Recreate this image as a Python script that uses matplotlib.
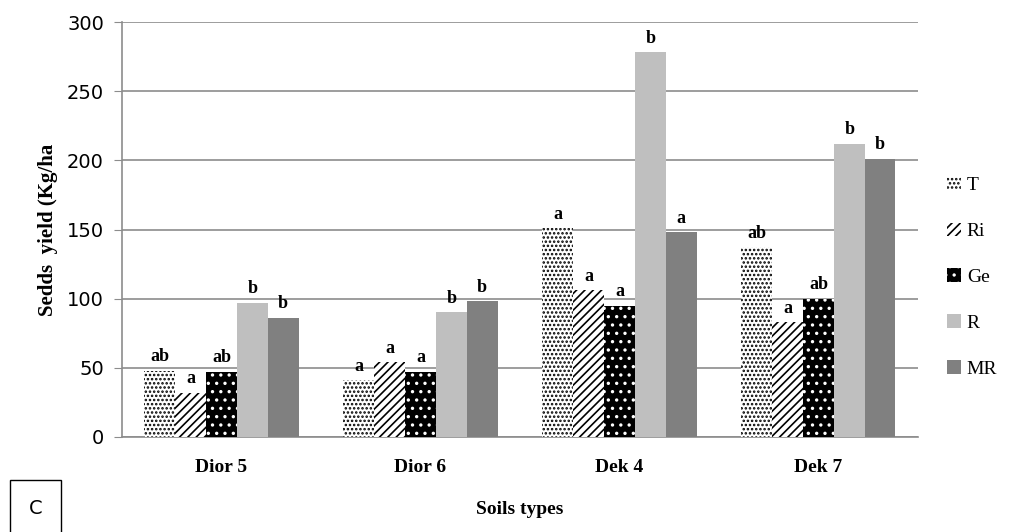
import numpy as np
import matplotlib
matplotlib.use('Agg')
import matplotlib.pyplot as plt

soils = ['Dior 5', 'Dior 6', 'Dek 4', 'Dek 7']
series = ['T', 'Ri', 'Ge', 'R', 'MR']
T = [48, 41, 151, 137]
Ri = [32, 54, 106, 83]
Ge = [47, 47, 95, 100]
R = [97, 90, 278, 212]
MR = [86, 98, 148, 201]
letters_T = ['ab', 'a', 'a', 'ab']
letters_Ri = ['a', 'a', 'a', 'a']
letters_Ge = ['ab', 'a', 'a', 'ab']
letters_R = ['b', 'b', 'b', 'b']
letters_MR = ['b', 'b', 'a', 'b']

values = [T, Ri, Ge, R, MR]
letters = [letters_T, letters_Ri, letters_Ge, letters_R, letters_MR]
faces = ['white', 'white', 'black', '#bfbfbf', '#808080']
edges = ['black', 'black', 'white', '#bfbfbf', '#808080']
hatches = ['....', '////', '..', None, None]

plt.rcParams['hatch.linewidth'] = 1.2
fig = plt.figure(figsize=(10.21, 5.32), dpi=100)
ax = fig.add_axes([0.1195, 0.1786, 0.7795, 0.78])

x = np.arange(len(soils))
w = 0.155
for i, name in enumerate(series):
    pos = x + (i - 2) * w
    ax.bar(pos, values[i], w, color=faces[i], edgecolor=edges[i], hatch=hatches[i],
           linewidth=0, label=name, zorder=3)
    for p, v, t in zip(pos, values[i], letters[i]):
        ax.text(p, v + 4, t, ha='center', va='bottom', family='Liberation Serif',
                fontweight='bold', fontsize=13, zorder=4)

ax.set_xlim(-0.5, 3.5)
ax.set_ylim(0, 300)
ax.set_yticks(range(0, 301, 50))
ax.yaxis.grid(True, color='#8c8c8c', linewidth=1.2, zorder=0)
ax.set_axisbelow(True)
for s in ['top', 'right']:
    ax.spines[s].set_visible(False)
for s in ['left', 'bottom']:
    ax.spines[s].set_color('#8c8c8c')
    ax.spines[s].set_linewidth(1.2)
ax.tick_params(axis='y', length=6, color='#8c8c8c', labelsize=14, pad=7)
ax.tick_params(axis='x', length=0, pad=16)
ax.set_xticks(x)
ax.set_xticklabels(soils, family='Liberation Serif', fontweight='bold', fontsize=14)
ax.set_xlabel('Soils types', family='Liberation Serif', fontweight='bold', fontsize=14, labelpad=18)
ax.set_ylabel('Sedds  yield (Kg/ha', family='Liberation Serif', fontweight='bold', fontsize=15, labelpad=6)

ax.legend(loc='center left', bbox_to_anchor=(1.015, 0.385), frameon=False,
          prop={'family': 'Liberation Serif', 'size': 14}, handlelength=0.7,
          handleheight=0.7, labelspacing=1.45, handletextpad=0.3)

fig.text(0.035, 0.045, 'C', ha='center', va='center', fontsize=14,
         bbox=dict(boxstyle='square,pad=0.95', facecolor='white', edgecolor='black', linewidth=1))

fig.savefig('out.png', dpi=100)
